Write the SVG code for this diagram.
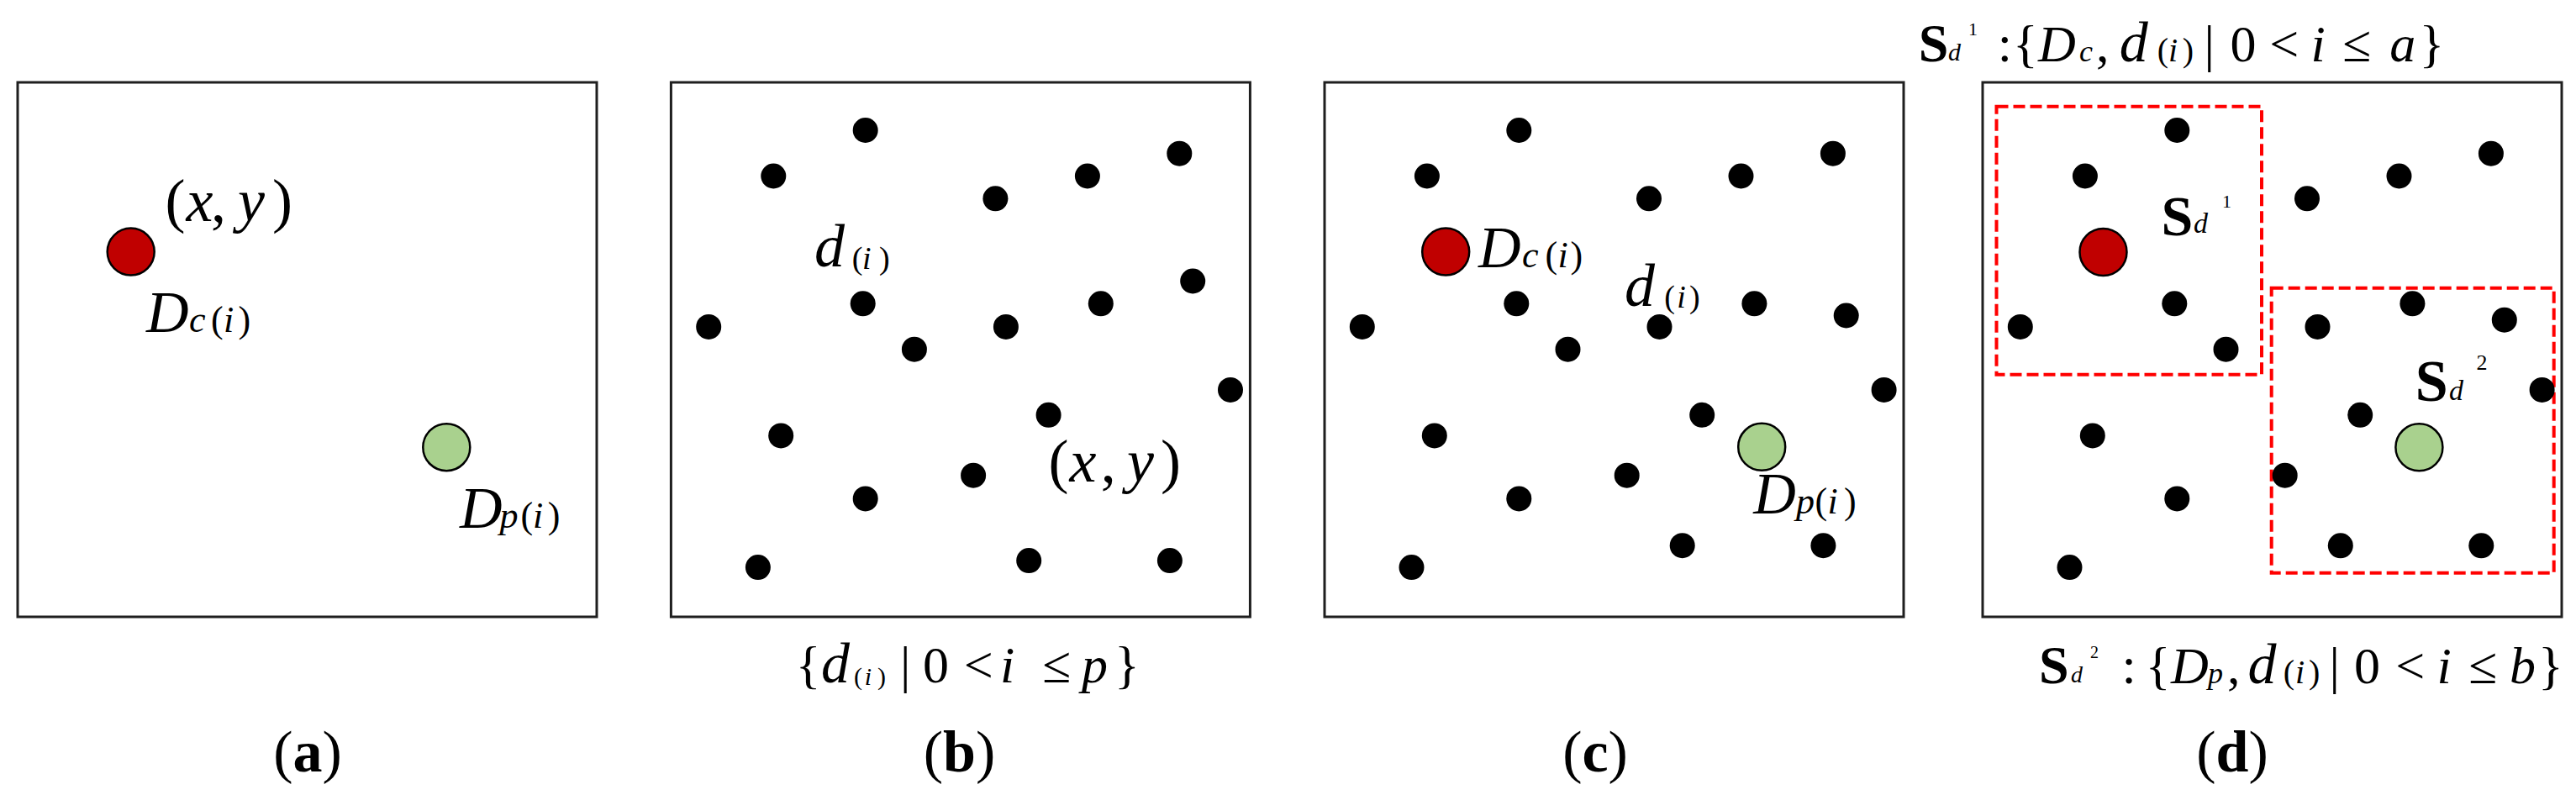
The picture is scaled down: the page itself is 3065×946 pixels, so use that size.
<svg xmlns="http://www.w3.org/2000/svg" width="3065" height="946" viewBox="0 0 3065 946">
<style>
.box{fill:#fff;stroke:#1f1f1f;stroke-width:3}
.dot{fill:#000}
.red{fill:#c00000;stroke:#000;stroke-width:2.5}
.grn{fill:#a9d18e;stroke:#000;stroke-width:2.5}
.dash{fill:none;stroke:#ff0000;stroke-width:4;stroke-dasharray:14 6}
text{font-family:"Liberation Serif","Times New Roman",serif;fill:#000}
.it{font-style:italic}
.bd{font-weight:bold}
</style>
<defs>
<g id="dots" class="dot">
<circle cx="231.3" cy="155" r="15"/>
<circle cx="121.9" cy="209.5" r="15"/>
<circle cx="386" cy="236.3" r="15"/>
<circle cx="495.5" cy="209.5" r="15"/>
<circle cx="604.9" cy="182.7" r="15"/>
<circle cx="228.3" cy="361.3" r="15"/>
<circle cx="44.8" cy="388.9" r="15"/>
<circle cx="289.5" cy="415.7" r="15"/>
<circle cx="398.5" cy="388.9" r="15"/>
<circle cx="511.4" cy="361.3" r="15"/>
<circle cx="665.6" cy="463.9" r="15"/>
<circle cx="449.2" cy="493.8" r="15"/>
<circle cx="130.8" cy="518.4" r="15"/>
<circle cx="359.7" cy="565.7" r="15"/>
<circle cx="231.3" cy="593.4" r="15"/>
<circle cx="103.5" cy="675.1" r="15"/>
</g>
</defs>
<rect width="3065" height="946" fill="#fff"/>

<g id="panel-a">
<rect class="box" x="21" y="98" width="689" height="636"/>
<circle class="red" cx="155.7" cy="299.6" r="28"/>
<circle class="grn" cx="531.3" cy="532.2" r="28"/>
<text y="263" font-size="72"><tspan x="196.5">(</tspan><tspan class="it" x="221.4">x</tspan><tspan x="251">,</tspan><tspan class="it" x="283">y</tspan><tspan x="324">)</tspan></text>
<text class="it" x="174" y="395" font-size="70">D</text>
<text y="395" font-size="44"><tspan class="it" x="225">c</tspan><tspan x="251">(</tspan><tspan class="it" x="266">i</tspan><tspan x="283.6">)</tspan></text>
<text class="it" x="547" y="628" font-size="70">D</text>
<text y="628" font-size="44"><tspan class="it" x="594.5">p</tspan><tspan x="619.4">(</tspan><tspan class="it" x="634">i</tspan><tspan x="651.7">)</tspan></text>
<text x="366" y="918" font-size="70" text-anchor="middle">(<tspan class="bd">a</tspan>)</text>
</g>

<g id="panel-b">
<rect class="box" x="798.4" y="98" width="689" height="636"/>
<use href="#dots" transform="translate(798.4 0)"/>
<g class="dot">
<circle cx="1419.2" cy="334.5" r="15"/>
<circle cx="1224.2" cy="667.1" r="15"/>
<circle cx="1391.9" cy="667.1" r="15"/>
</g>
<text class="it" x="969" y="316.6" font-size="72">d</text>
<text y="320" font-size="38"><tspan x="1013.8">(</tspan><tspan class="it" x="1026">i</tspan><tspan x="1046">)</tspan></text>
<text y="573.3" font-size="72"><tspan x="1247.6">(</tspan><tspan class="it" x="1272.5">x</tspan><tspan x="1309.8">,</tspan><tspan class="it" x="1341">y</tspan><tspan x="1381">)</tspan></text>
<text y="811.7" font-size="62"><tspan x="946.7">{</tspan><tspan class="it" font-size="68" x="977">d</tspan><tspan font-size="30" x="1016" dy="3">(</tspan><tspan class="it" font-size="30" x="1028.7">i</tspan><tspan font-size="30" x="1044">)</tspan><tspan x="1071" dy="-3">|</tspan><tspan x="1098">0</tspan><tspan x="1146.7">&lt;</tspan><tspan class="it" x="1190">i</tspan><tspan x="1240">≤</tspan><tspan class="it" x="1287">p</tspan><tspan x="1326">}</tspan></text>
<text x="1141.5" y="918" font-size="70" text-anchor="middle">(<tspan class="bd">b</tspan>)</text>
</g>

<g id="panel-c">
<rect class="box" x="1576" y="98" width="689" height="636"/>
<use href="#dots" transform="translate(1576 0)"/>
<g class="dot">
<circle cx="2196.7" cy="375.5" r="15"/>
<circle cx="2001.7" cy="649.2" r="15"/>
<circle cx="2169.4" cy="649.2" r="15"/>
</g>
<circle class="red" cx="1720.2" cy="299.6" r="28"/>
<circle class="grn" cx="2096.2" cy="531.8" r="28"/>
<text class="it" x="1759" y="317.5" font-size="70">D</text>
<text y="318" font-size="44"><tspan class="it" x="1811">c</tspan><tspan x="1838.6">(</tspan><tspan class="it" x="1853.5">i</tspan><tspan x="1868.4">)</tspan></text>
<text class="it" x="1933" y="363.5" font-size="72">d</text>
<text y="366" font-size="38"><tspan x="1980.3">(</tspan><tspan class="it" x="1995.3">i</tspan><tspan x="2010">)</tspan></text>
<text class="it" x="2086.3" y="611" font-size="70">D</text>
<text y="611" font-size="44"><tspan class="it" x="2137">p</tspan><tspan x="2159.4">(</tspan><tspan class="it" x="2174.4">i</tspan><tspan x="2194">)</tspan></text>
<text x="1898" y="918" font-size="70" text-anchor="middle">(<tspan class="bd">c</tspan>)</text>
</g>

<g id="panel-d">
<rect class="box" x="2359" y="98" width="689" height="636"/>
<rect class="dash" x="2375.5" y="126.7" width="315.5" height="319"/>
<rect class="dash" x="2702.7" y="342.7" width="336" height="339"/>
<use href="#dots" transform="translate(2359 0)"/>
<g class="dot">
<circle cx="2979.8" cy="380.7" r="15"/>
<circle cx="2784.8" cy="649.3" r="15"/>
<circle cx="2952.3" cy="649.3" r="15"/>
</g>
<circle class="red" cx="2502.5" cy="300" r="28"/>
<circle class="grn" cx="2878.4" cy="532.3" r="28"/>
<text class="bd" x="2571.4" y="280" font-size="68">S</text>
<text class="it" x="2610" y="276.7" font-size="34">d</text>
<text x="2644" y="246.7" font-size="22">1</text>
<text class="bd" x="2873.8" y="476.7" font-size="70">S</text>
<text class="it" x="2914" y="476" font-size="34">d</text>
<text x="2946.4" y="440" font-size="26">2</text>
<text y="72.7" font-size="62"><tspan class="bd" font-size="64" x="2282.7">S</tspan><tspan class="it" font-size="30" x="2318" dy="-1">d</tspan><tspan font-size="22" x="2342" dy="-30">1</tspan><tspan x="2376.7" dy="31">:</tspan><tspan x="2395">{</tspan><tspan class="it" x="2425">D</tspan><tspan class="it" font-size="36" x="2474">c</tspan><tspan x="2494">,</tspan><tspan class="it" font-size="68" x="2521.7">d</tspan><tspan font-size="40" x="2566.7">(</tspan><tspan class="it" font-size="40" x="2580">i</tspan><tspan font-size="40" x="2596.7">)</tspan><tspan x="2622.5">|</tspan><tspan x="2653.4">0</tspan><tspan x="2700.3">&lt;</tspan><tspan class="it" x="2749.5">i</tspan><tspan x="2787">≤</tspan><tspan class="it" x="2843.3">a</tspan><tspan x="2878.4">}</tspan></text>
<text y="813.3" font-size="62"><tspan class="bd" font-size="64" x="2426">S</tspan><tspan class="it" font-size="28" x="2464" dy="-1.6">d</tspan><tspan font-size="20" x="2487" dy="-28.4">2</tspan><tspan x="2524.5" dy="30">:</tspan><tspan x="2552.7">{</tspan><tspan class="it" x="2583">D</tspan><tspan class="it" font-size="36" x="2627">p</tspan><tspan x="2650">,</tspan><tspan class="it" font-size="68" x="2674.5">d</tspan><tspan font-size="40" x="2716.7">(</tspan><tspan class="it" font-size="40" x="2731">i</tspan><tspan font-size="40" x="2747">)</tspan><tspan x="2771.5">|</tspan><tspan x="2801">0</tspan><tspan x="2850.3">&lt;</tspan><tspan class="it" x="2899.6">i</tspan><tspan x="2937">≤</tspan><tspan class="it" x="2986">b</tspan><tspan x="3020">}</tspan></text>
<text x="2656" y="918" font-size="70" text-anchor="middle">(<tspan class="bd">d</tspan>)</text>
</g>
</svg>
